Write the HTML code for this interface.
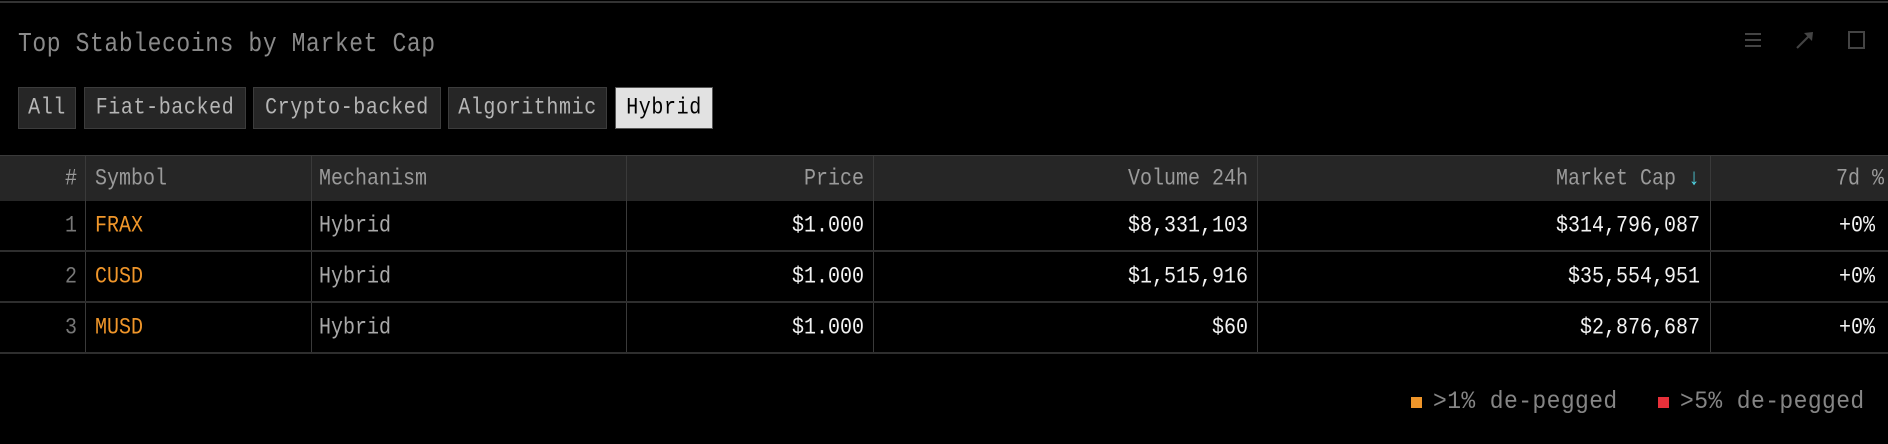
<!DOCTYPE html>
<html><head><meta charset="utf-8">
<style>
html,body{margin:0;padding:0;background:#000;}
body{width:1888px;height:444px;position:relative;overflow:hidden;font-family:"Liberation Mono",monospace;}
.abs{position:absolute;white-space:nowrap;}
.topline{left:0;top:1px;width:1888px;height:2px;background:#333;}
.title{left:18px;top:29px;font-size:23px;color:#8a8a8a;letter-spacing:0.6px;transform:scaleY(1.15);transform-origin:left top;}
.btn{top:87px;height:40px;border:1px solid #3c3c3c;background:#262626;color:#b5b5b5;font-size:20px;line-height:42px;text-align:center;letter-spacing:0.6px;box-sizing:content-box;}
.btn span{display:inline-block;transform:scaleY(1.15);}
.btn.active{background:#e2e2e2;color:#000;border-color:#555;}
.hdr{left:0;top:155px;width:1888px;height:45px;background:#262626;border-top:1px solid #3a3a3a;}
.vline{width:1px;background:#3a3a3a;}
.hline{left:0;width:1888px;height:2px;background:#2e2e2e;}
.th{font-size:20px;color:#9a9a9a;top:166px;transform:scaleY(1.15);transform-origin:left top;}
.td{font-size:20px;color:#f2f2f2;transform:scaleY(1.15);transform-origin:left top;}
.r{transform:translateX(-100%) scaleY(1.15);}
.leg{font-size:23px;color:#858585;top:387px;transform:scaleY(1.1);transform-origin:left top;letter-spacing:0.4px;}
.sq{width:11px;height:11px;top:397px;}
</style></head><body>
<div class="abs topline"></div>
<div class="abs title">Top Stablecoins by Market Cap</div>
<svg class="abs" style="left:1744px;top:32px" width="18" height="16"><g stroke="#444" stroke-width="2"><line x1="1" y1="2" x2="17" y2="2"/><line x1="1" y1="8" x2="17" y2="8"/><line x1="1" y1="14" x2="17" y2="14"/></g></svg>
<svg class="abs" style="left:1796px;top:31px" width="18" height="18"><line x1="1" y1="17" x2="15" y2="3" stroke="#444" stroke-width="2"/><polygon points="8,2 17,1 16,10" fill="#444"/></svg>
<svg class="abs" style="left:1848px;top:31px" width="17" height="18"><rect x="1" y="1" width="15" height="16" fill="none" stroke="#444" stroke-width="2"/></svg>

<div class="abs btn" style="left:18px;width:56px"><span>All</span></div>
<div class="abs btn" style="left:84px;width:160px"><span>Fiat-backed</span></div>
<div class="abs btn" style="left:253px;width:186px"><span>Crypto-backed</span></div>
<div class="abs btn" style="left:448px;width:157px"><span>Algorithmic</span></div>
<div class="abs btn active" style="left:615px;width:96px"><span>Hybrid</span></div>

<div class="abs hdr"></div>
<div class="abs th r" style="left:77px">#</div>
<div class="abs th" style="left:95px">Symbol</div>
<div class="abs th" style="left:319px">Mechanism</div>
<div class="abs th r" style="left:864px">Price</div>
<div class="abs th r" style="left:1248px">Volume 24h</div>
<div class="abs th r" style="left:1700px">Market Cap <span style="color:#4fd1e0">↓</span></div>
<div class="abs th r" style="left:1884px">7d %</div>

<div id="rows"></div>

<div class="abs sq" style="left:1411px;background:#f0962a"></div>
<div class="abs leg" style="left:1433px">&gt;1% de-pegged</div>
<div class="abs sq" style="left:1658px;background:#e8303a"></div>
<div class="abs leg" style="left:1680px">&gt;5% de-pegged</div>

<script>
const symbols = ["FRAX","CUSD","MUSD"];
const mechanisms = ["Hybrid","Hybrid","Hybrid"];
const prices = ["$1.000","$1.000","$1.000"];
const volumes = ["$8,331,103","$1,515,916","$60"];
const caps = ["$314,796,087","$35,554,951","$2,876,687"];
const changes = ["+0%","+0%","+0%"];

const root = document.getElementById('rows');
const rowTop = 200, rowH = 51;
const dividers = [85,311,626,873,1257,1710];
function mk(cls, style, text){
  const d = document.createElement('div');
  d.className = 'abs ' + cls;
  d.style.cssText = style;
  if (text !== undefined) d.textContent = text;
  root.appendChild(d);
  return d;
}
dividers.forEach((x,i)=>{
  const v = mk('vline', 'left:'+x+'px;top:156px;height:'+(rowH*symbols.length+44)+'px;');
  
  
});
symbols.forEach((s,i)=>{
  const y = rowTop + i*rowH;
  const ty = y + 13;
  const hl = mk('hline', 'top:'+(y+rowH-1)+'px;');
  
  
  const a = mk('td r', 'left:77px;top:'+ty+'px;color:#777;', String(i+1));
  
  
  const b = mk('td', 'left:95px;top:'+ty+'px;color:#f0962a;', s);
  
  
  const c = mk('td', 'left:319px;top:'+ty+'px;color:#a8a8a8;', mechanisms[i]);
  
  
  const d = mk('td r', 'left:864px;top:'+ty+'px;', prices[i]);
  
  
  const e = mk('td r', 'left:1248px;top:'+ty+'px;', volumes[i]);
  
  
  const f = mk('td r', 'left:1700px;top:'+ty+'px;', caps[i]);
  
  
  const g = mk('td r', 'left:1875px;top:'+ty+'px;', changes[i]);
  
  
});
</script>
</body></html>
